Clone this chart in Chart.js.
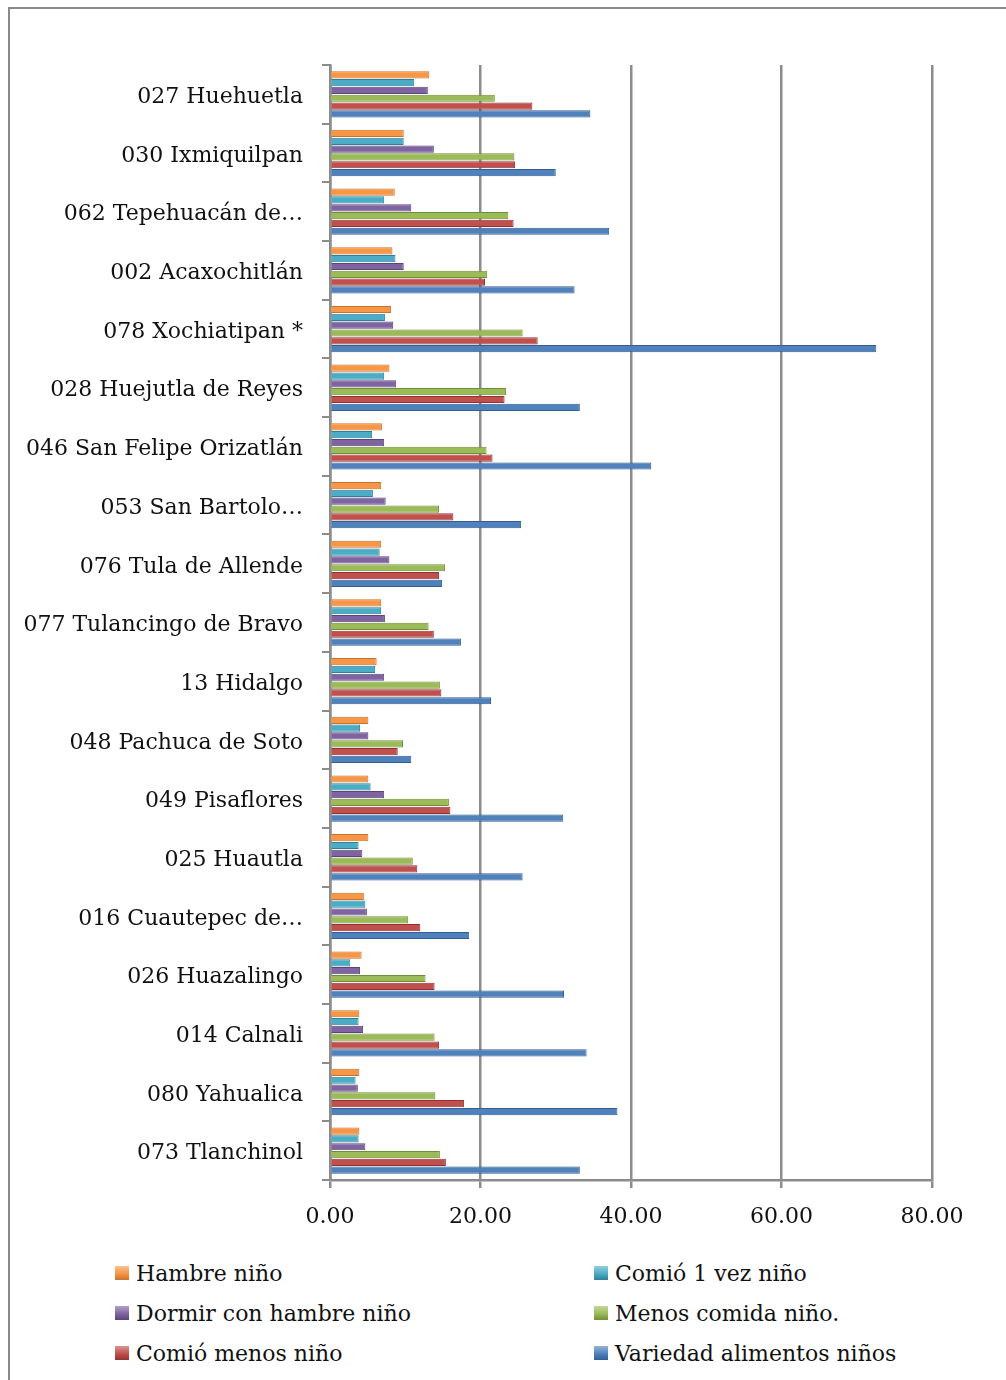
<!DOCTYPE html>
<html>
<head>
<meta charset="utf-8">
<script src="https://cdn.jsdelivr.net/npm/chart.js@4.4.1/dist/chart.umd.min.js"></script>
<style>
  html, body { margin:0; padding:0; background:#fff; }
  body { width:1006px; height:1380px; position:relative; overflow:hidden; font-family:'DejaVu Serif', serif; }
  .frame { position:absolute; left:8px; top:7px; width:1010px; height:1380px; border-left:2px solid #8a8a8a; border-top:2px solid #8a8a8a; }
  .chart-wrap { position:absolute; left:0; top:0; width:1006px; height:1230px; }
  .legend { position:absolute; left:115px; top:1258px; display:grid; grid-template-columns:479px 340px; row-gap:10px; }
  .legend-item { display:flex; align-items:center; height:30px; font-size:22px; color:#111; }
  .legend-box { width:14px; height:14px; margin-right:7px; flex:none; }
</style>
</head>
<body>
<div class="frame"></div>
<div class="chart-wrap"><canvas id="chart" width="1006" height="1230"></canvas></div>
<div class="legend" id="legend"></div>
<script>
// categories, top to bottom
const municipios = [
  '027 Huehuetla', '030 Ixmiquilpan', '062 Tepehuacán de\u2026', '002 Acaxochitlán',
  '078 Xochiatipan *', '028 Huejutla de Reyes', '046 San Felipe Orizatlán', '053 San Bartolo\u2026',
  '076 Tula de Allende', '077 Tulancingo de Bravo', '13 Hidalgo', '048 Pachuca de Soto',
  '049 Pisaflores', '025 Huautla', '016 Cuautepec de\u2026', '026 Huazalingo',
  '014 Calnali', '080 Yahualica', '073 Tlanchinol'
];

const hambre      = [13.2, 9.8, 8.6, 8.3, 8.1, 7.9, 6.9, 6.8, 6.8, 6.8, 6.2, 5.1, 5.1, 5.1, 4.5, 4.2, 3.9, 3.9, 3.9];
const comio1vez   = [11.2, 9.8, 7.2, 8.7, 7.3, 7.2, 5.6, 5.7, 6.6, 6.8, 6.0, 4.0, 5.4, 3.8, 4.7, 2.7, 3.8, 3.4, 3.8];
const dormir      = [13.0, 13.8, 10.8, 9.8, 8.4, 8.8, 7.2, 7.4, 7.9, 7.3, 7.2, 5.1, 7.2, 4.3, 4.9, 4.0, 4.4, 3.7, 4.7];
const menosComida = [21.9, 24.5, 23.7, 20.9, 25.6, 23.4, 20.8, 14.5, 15.3, 13.1, 14.6, 9.7, 15.8, 11.0, 10.4, 12.7, 13.9, 14.0, 14.6];
const comioMenos  = [26.9, 24.6, 24.4, 20.6, 27.6, 23.2, 21.6, 16.4, 14.5, 13.8, 14.8, 9.0, 16.0, 11.6, 12.0, 13.9, 14.5, 17.8, 15.4];
const variedad    = [34.6, 30.0, 37.1, 32.5, 72.6, 33.2, 42.7, 25.4, 14.9, 17.4, 21.4, 10.8, 31.0, 25.6, 18.5, 31.1, 34.1, 38.2, 33.2];

const xTicks = [0, 20, 40, 60, 80];

const series = [
  { label: 'Hambre niño',              data: hambre,      color: '#F79646', edge: '#C8732C' },
  { label: 'Comió 1 vez niño',         data: comio1vez,   color: '#4BACC6', edge: '#2E8198' },
  { label: 'Dormir con hambre niño',   data: dormir,      color: '#8064A2', edge: '#5C4578' },
  { label: 'Menos comida niño.',       data: menosComida, color: '#9BBB59', edge: '#6F8E38' },
  { label: 'Comió menos niño',         data: comioMenos,  color: '#C0504D', edge: '#913431' },
  { label: 'Variedad alimentos niños', data: variedad,    color: '#4F81BD', edge: '#335E92' }
];

const GRID = '#8c8c8c';
const FONT = "'DejaVu Serif', serif";

new Chart(document.getElementById('chart'), {
  type: 'bar',
  data: {
    labels: municipios,
    datasets: series.map(s => ({
      label: s.label,
      data: s.data,
      backgroundColor: s.color,
      borderColor: s.edge,
      borderWidth: 1,
      categoryPercentage: 0.8,
      barPercentage: 0.92
    }))
  },
  options: {
    indexAxis: 'y',
    responsive: false,
    animation: false,
    layout: { padding: { top: 65, right: 74, left: 0, bottom: 0 } },
    plugins: { legend: { display: false }, tooltip: { enabled: false } },
    scales: {
      x: {
        min: 0, max: 80,
        afterBuildTicks: sc => { sc.ticks = xTicks.map(v => ({ value: v })); },
        afterFit: sc => { sc.height = 50; },
        grid: { color: GRID, lineWidth: 2.5, tickLength: 8 },
        border: { display: true, color: GRID, width: 2.5 },
        ticks: {
          padding: 16,
          color: '#111',
          font: { family: FONT, size: 22 },
          callback: v => Number(v).toFixed(2)
        }
      },
      y: {
        afterFit: sc => { sc.width = 330; },
        grid: { display: true, drawOnChartArea: false, color: GRID, lineWidth: 2, tickLength: 8 },
        border: { display: true, color: GRID, width: 2.5 },
        ticks: {
          padding: 19,
          labelOffset: 3,
          color: '#111',
          autoSkip: false,
          font: { family: FONT, size: 22 }
        }
      }
    }
  }
});

// legend in two columns, same order as the reference
document.getElementById('legend').innerHTML = series.map(s =>
  `<div class="legend-item"><span class="legend-box" style="background:linear-gradient(${s.color}99, ${s.color} 55%, ${s.edge})"></span>${s.label}</div>`
).join('');
</script>
</body>
</html>
